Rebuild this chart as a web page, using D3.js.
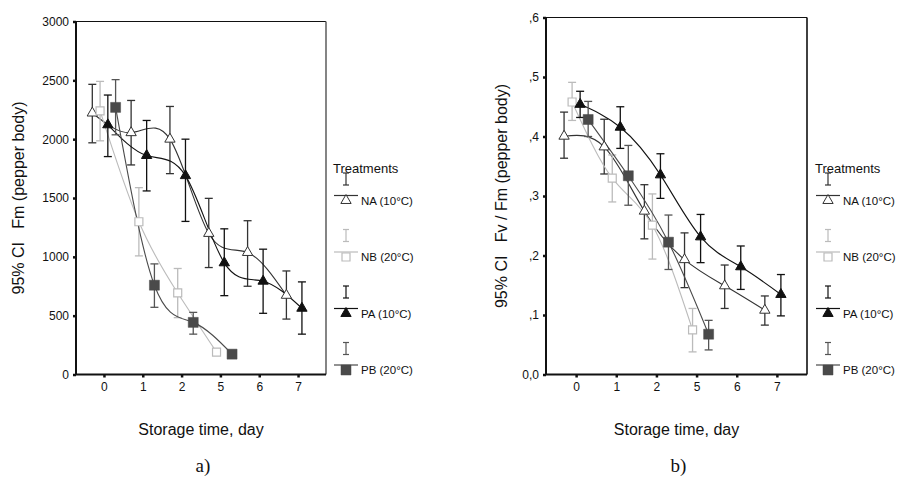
<!DOCTYPE html>
<html><head><meta charset="utf-8">
<script src="https://cdn.jsdelivr.net/npm/d3@7/dist/d3.min.js"></script>
<style>body{margin:0;background:#fff}svg{display:block;font-family:"Liberation Sans",Arial,sans-serif}</style>
</head><body>
<svg id="c" width="901" height="486"></svg>
<script>
// ---------- data ----------
const days = ["0","1","2","5","6","7"];
const seriesNames = ["NA (10°C)","NB (20°C)","PA (10°C)","PB (20°C)"];

// Fm (pepper body): mean, lower 95% CI, upper 95% CI
const fmNA   = [2222, 2055, 2000, 1199, 1037, 673];
const fmNAlo = [1969, 1781, 1707, 909, 750, 471];
const fmNAhi = [2466, 2329, 2278, 1497, 1307, 880];
const fmNB   = [2241, 1298, 693, 190];
const fmNBlo = [1986, 1008, 483, 168];
const fmNBhi = [2491, 1588, 901, 212];
const fmPA   = [2122, 1861, 1690, 949, 793, 563];
const fmPAlo = [1852, 1560, 1301, 670, 520, 343];
const fmPAhi = [2375, 2159, 2000, 1238, 1065, 787];
const fmPB   = [2270, 759, 443, 173];
const fmPBlo = [2037, 571, 343, 160];
const fmPBhi = [2506, 940, 528, 186];

// Fv/Fm (pepper body)
const fvNA   = [0.4005, 0.3825, 0.2745, 0.193, 0.149, 0.108];
const fvNAlo = [0.3635, 0.337, 0.228, 0.146, 0.111, 0.083];
const fvNAhi = [0.441, 0.429, 0.319, 0.238, 0.184, 0.132];
const fvNB   = [0.458, 0.330, 0.251, 0.075];
const fvNBlo = [0.427, 0.290, 0.194, 0.038];
const fvNBhi = [0.491, 0.369, 0.3035, 0.111];
const fvPA   = [0.454, 0.4156, 0.3355, 0.2313, 0.181, 0.1345];
const fvPAlo = [0.432, 0.380, 0.296, 0.188, 0.143, 0.0985];
const fvPAhi = [0.476, 0.450, 0.371, 0.269, 0.216, 0.168];
const fvPB   = [0.4286, 0.334, 0.2224, 0.0677];
const fvPBlo = [0.400, 0.2845, 0.1765, 0.0413];
const fvPBhi = [0.459, 0.385, 0.268, 0.091];

const fmTicks = [0, 500, 1000, 1500, 2000, 2500, 3000];
const fmTickLabels = ["0","500","1000","1500","2000","2500","3000"];
const fvTicks = [0, 0.1, 0.2, 0.3, 0.4, 0.5, 0.6];
const fvTickLabels = ["0,0",",1",",2",",3",",4",",5",",6"];

// ---------- styles ----------
const lineCol  = ["#333", "#bbb", "#111", "#4a4a4a"];
const barCol   = ["#333", "#bbb", "#111", "#555"];
const dodge    = [-0.3, -0.1, 0.1, 0.3];

const svg = d3.select("#c");

function symbolFor(i){
  if (i === 0 || i === 2) return d3.symbol(d3.symbolTriangle, 46)();
  if (i === 1) return d3.symbol(d3.symbolSquare, 64)();
  return d3.symbol(d3.symbolSquare, 100)();
}
function styleMarker(sel, i){
  if (i === 0) sel.attr("fill","#fff").attr("stroke","#333").attr("stroke-width",1);
  else if (i === 1) sel.attr("fill","#fff").attr("stroke","#bbb").attr("stroke-width",1.2);
  else if (i === 2) sel.attr("fill","#111").attr("stroke","#111").attr("stroke-width",1);
  else sel.attr("fill","#4a4a4a").attr("stroke","#4a4a4a").attr("stroke-width",0.5);
}

function drawChart(o){
  const x = d3.scalePoint().domain(days).range([o.x0, o.x1]).padding(o.pad);
  const y = d3.scaleLinear().domain([0, o.ymax]).range([o.yb, o.yt]);
  const step = x.step();
  const g = svg.append("g");

  // frame
  g.append("line").attr("x1",o.x0).attr("x2",o.x1).attr("y1",o.yt).attr("y2",o.yt).attr("stroke","#111").attr("stroke-width",1.2);
  g.append("line").attr("x1",o.x1).attr("x2",o.x1).attr("y1",o.yt).attr("y2",o.yb).attr("stroke",o.rightCol).attr("stroke-width",1.6);

  // axes
  const ya = d3.axisLeft(y).tickValues(o.ticks).tickFormat((d,i)=>o.tickLabels[i]).tickSize(3).tickPadding(4);
  const yg = g.append("g").attr("transform",`translate(${o.x0},0)`).call(ya);
  const xa = d3.axisBottom(x).tickSize(3).tickPadding(5);
  const xg = g.append("g").attr("transform",`translate(0,${o.yb})`).call(xa);
  [yg, xg].forEach(a=>{
    a.select(".domain").attr("stroke","#111").attr("stroke-width",2);
    a.selectAll(".tick line").attr("stroke","#111").attr("stroke-width",2.5);
    a.selectAll(".tick text").attr("fill","#111").style("font-size","12px").style("font-family","Liberation Sans, Arial, sans-serif");
  });
  xg.select(".domain").attr("d",`M${o.x0},0H${o.x1}`);
  yg.select(".domain").attr("d",`M0,${o.yb}V${o.yt}`);

  // series
  o.series.forEach((s,i)=>{
    const pts = s.mean.map((v,k)=>({x: x(days[k]) + dodge[i]*step, y: y(v), lo: y(s.lo[k]), hi: y(s.hi[k])}));
    g.append("path").datum(pts)
      .attr("d", d3.line().x(d=>d.x).y(d=>d.y).curve(d3.curveNatural))
      .attr("fill","none").attr("stroke",lineCol[i]).attr("stroke-width",1.1);
    const eb = g.append("g");
    pts.forEach(p=>{
      eb.append("line").attr("x1",p.x).attr("x2",p.x).attr("y1",p.lo).attr("y2",p.hi).attr("stroke",barCol[i]).attr("stroke-width",1.3);
      [p.lo,p.hi].forEach(yy=>eb.append("line").attr("x1",p.x-4).attr("x2",p.x+4).attr("y1",yy).attr("y2",yy).attr("stroke",barCol[i]).attr("stroke-width",1.3));
    });
  });
  o.series.forEach((s,i)=>{
    s.mean.forEach((v,k)=>{
      const m = g.append("path").attr("d",symbolFor(i))
        .attr("transform",`translate(${x(days[k]) + dodge[i]*step},${y(v)})`);
      styleMarker(m,i);
    });
  });

  // axis titles
  g.append("text").attr("transform",`translate(${o.ylabX},${(o.yt+o.yb)/2}) rotate(-90)`)
    .attr("text-anchor","middle").style("font-size","16px").attr("fill","#111")
    .attr("xml:space","preserve").text(o.ylabel);
  g.append("text").attr("x",(o.x0+o.x1)/2).attr("y",435).attr("text-anchor","middle")
    .style("font-size","16px").attr("fill","#111").text("Storage time, day");
  g.append("text").attr("x",(o.x0+o.x1)/2 + 2).attr("y",472).attr("text-anchor","middle")
    .style("font-family","Liberation Serif, Times New Roman, serif").style("font-size","19px").attr("fill","#111").text(o.caption);

  // legend
  const L = g.append("g");
  L.append("text").attr("x",o.legX).attr("y",173).style("font-size","13px").attr("fill","#111").text("Treatments");
  seriesNames.forEach((nm,i)=>{
    const yI = 179 + i*56.5;
    const cx = o.legX + 13;
    L.append("line").attr("x1",cx).attr("x2",cx).attr("y1",yI-6).attr("y2",yI+6).attr("stroke",barCol[i]).attr("stroke-width",1.2);
    [yI-6,yI+6].forEach(yy=>L.append("line").attr("x1",cx-3).attr("x2",cx+3).attr("y1",yy).attr("y2",yy).attr("stroke",barCol[i]).attr("stroke-width",1.2));
    L.append("line").attr("x1",o.legX+1).attr("x2",o.legX+25).attr("y1",yI+16.5).attr("y2",yI+16.5).attr("stroke",lineCol[i]).attr("stroke-width",1.2);
    const m = L.append("path").attr("d",symbolFor(i)).attr("transform",`translate(${cx},${yI+21.5})`);
    styleMarker(m,i);
    L.append("text").attr("x",o.legX+28).attr("y",yI+25.5).style("font-size","11.5px").attr("fill","#111").text(nm);
  });
}

drawChart({
  x0: 76, x1: 326, yt: 21.5, yb: 374.5, pad: 0.72, ymax: 3000,
  ticks: fmTicks, tickLabels: fmTickLabels, rightCol: "#666",
  ylabel: "95% CI   Fm (pepper body)", ylabX: 24, caption: "a)", legX: 333,
  series: [
    {mean: fmNA, lo: fmNAlo, hi: fmNAhi},
    {mean: fmNB, lo: fmNBlo, hi: fmNBhi},
    {mean: fmPA, lo: fmPAlo, hi: fmPAhi},
    {mean: fmPB, lo: fmPBlo, hi: fmPBhi}
  ]
});
drawChart({
  x0: 546, x1: 807, yt: 17.5, yb: 374.5, pad: 0.75, ymax: 0.6,
  ticks: fvTicks, tickLabels: fvTickLabels, rightCol: "#111",
  ylabel: "95% CI   Fv / Fm (pepper body)", ylabX: 507, caption: "b)", legX: 815,
  series: [
    {mean: fvNA, lo: fvNAlo, hi: fvNAhi},
    {mean: fvNB, lo: fvNBlo, hi: fvNBhi},
    {mean: fvPA, lo: fvPAlo, hi: fvPAhi},
    {mean: fvPB, lo: fvPBlo, hi: fvPBhi}
  ]
});
</script>
</body></html>
